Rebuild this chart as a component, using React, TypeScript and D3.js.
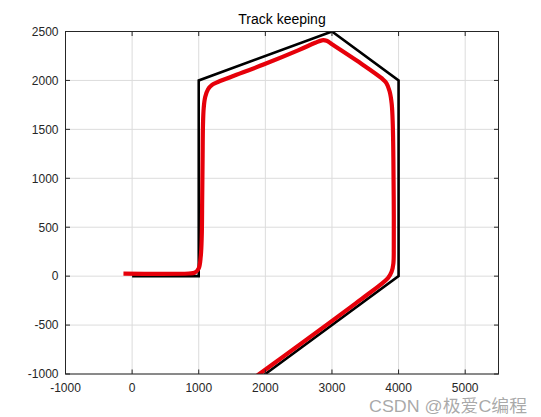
import React from "react";
import * as d3 from "d3";

const W = 541;
const H = 417;

const xTicks = [-1000, 0, 1000, 2000, 3000, 4000, 5000];
const yTicks = [-1000, -500, 0, 500, 1000, 1500, 2000, 2500];
const xDomain = [-1000, 5500];
const yDomain = [-1000, 2500];

// Reference track (black)
const trackX = [0, 1000, 1000, 3000, 4000, 4000, 2000, 1800];
const trackY = [0, 0, 2000, 2500, 2000, 0, -1000, -1100];

// Actual vehicle path (red)
const pathX = [-130, 850, 940, 1000, 1030, 1045, 1052, 1058, 1064, 1075, 1097, 1140, 1200, 1265, 1500, 2000, 2500, 2750, 2850, 2920, 3000, 3400, 3750, 3815, 3865, 3897, 3913, 3922, 3927, 3928, 3922, 3895, 3840, 3436, 1900, 1850];
const pathY = [25, 27, 35, 80, 200, 400, 800, 1200, 1550, 1720, 1830, 1910, 1955, 1978, 2040, 2170, 2310, 2385, 2410, 2405, 2370, 2190, 2020, 1975, 1890, 1760, 1550, 1200, 800, 300, 130, 45, -20, -237, -1005, -1030];

const title = "Track keeping";
const watermark = "CSDN @极爱C编程";

export default function App() {
  const left = 65.5, right = 498.5, top = 31.5, bottom = 374;
  const x = d3.scaleLinear().domain(xDomain).range([left, right]);
  const y = d3.scaleLinear().domain(yDomain).range([bottom, top]);

  const track = d3.line<number>().x((_, i) => x(trackX[i])).y((_, i) => y(trackY[i]));
  const path = d3
    .line<number>()
    .x((_, i) => x(pathX[i]))
    .y((_, i) => y(pathY[i]))
    .curve(d3.curveCatmullRom.alpha(0.5));

  const font = "Arial, 'Liberation Sans', Helvetica, sans-serif";
  const tickLen = 4.5;
  const axisColor = "#262626";

  return (
    <svg
      width={W}
      height={H}
      style={{ position: "absolute", left: 0, top: 0, background: "#fff" }}
      fontFamily={font}
    >
      <defs>
        <clipPath id="plotclip">
          <rect x={left} y={top} width={right - left} height={bottom - top} />
        </clipPath>
      </defs>
      <rect x={0} y={0} width={W} height={H} fill="#fff" />
      {/* grid */}
      <g stroke="#dcdcdc" strokeWidth={1}>
        {xTicks.map((t) => (
          <line key={"gx" + t} x1={x(t)} x2={x(t)} y1={top} y2={bottom} />
        ))}
        {yTicks.map((t) => (
          <line key={"gy" + t} x1={left} x2={right} y1={y(t)} y2={y(t)} />
        ))}
      </g>
      {/* data */}
      <g clipPath="url(#plotclip)" fill="none" strokeLinejoin="round" strokeLinecap="butt">
        <path d={track(trackX) || ""} stroke="#000" strokeWidth={2.6} strokeLinejoin="miter" />
        <path d={path(pathX) || ""} stroke="#e6000a" strokeWidth={4.2} />
      </g>
      {/* box and ticks */}
      <rect x={left} y={top} width={right - left} height={bottom - top} fill="none" stroke={axisColor} strokeWidth={1} />
      <g stroke={axisColor} strokeWidth={1}>
        {xTicks.map((t) => (
          <g key={"tx" + t}>
            <line x1={x(t)} x2={x(t)} y1={bottom} y2={bottom - tickLen} />
            <line x1={x(t)} x2={x(t)} y1={top} y2={top + tickLen} />
          </g>
        ))}
        {yTicks.map((t) => (
          <g key={"ty" + t}>
            <line x1={left} x2={left + tickLen} y1={y(t)} y2={y(t)} />
            <line x1={right} x2={right - tickLen} y1={y(t)} y2={y(t)} />
          </g>
        ))}
      </g>
      {/* tick labels */}
      <g fill={axisColor} fontSize={12}>
        {xTicks.map((t) => (
          <text key={"lx" + t} x={x(t)} y={392} textAnchor="middle">
            {t}
          </text>
        ))}
        {yTicks.map((t) => (
          <text key={"ly" + t} x={left - 7} y={y(t) + 4.3} textAnchor="end">
            {t}
          </text>
        ))}
      </g>
      <text x={(left + right) / 2} y={23.5} textAnchor="middle" fontSize={14} fill="#000">
        {title}
      </text>
      <text
        x={369}
        y={412}
        fontSize={17}
        fill="#9a9a9a"
        fillOpacity={0.85}
        textLength={158}
        lengthAdjust="spacingAndGlyphs"
        fontFamily="Arial, 'Liberation Sans', 'Noto Sans CJK SC', sans-serif"
      >
        {watermark}
      </text>
    </svg>
  );
}
